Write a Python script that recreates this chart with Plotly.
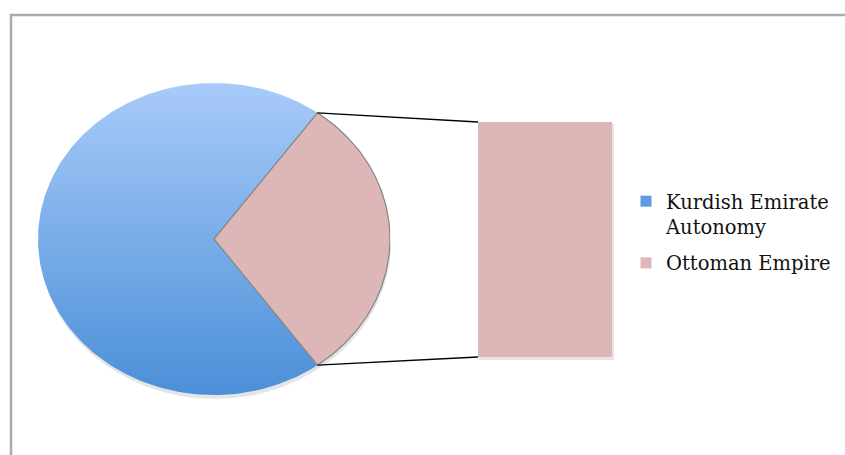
import numpy as np
import plotly.graph_objects as go

# ---- data ----
categories = ["Kurdish Emirate Autonomy", "Ottoman Empire"]
values = [70, 30]
legend_labels = ["Kurdish Emirate<br>Autonomy", "Ottoman Empire"]
bar_values = [30]          # secondary "bar of pie" contents (Ottoman Empire)

# ---- style / layout ----
W, H = 845, 455
blue_dark, blue_light = "#4b8fd8", "#a8cbf9"
pink = "rgb(221,183,183)"
pie_px = (38, 390, 83, 395)     # left, right, top, bottom (pixels)
bar_px = (478, 612, 122, 357)


def px2paper_x(v):
    return v / W


def px2paper_y(v):
    return 1 - v / H


total = sum(values)
ott_half = np.pi * values[1] / total        # Ottoman wedge centred on 0 rad


def wedge(a0, a1, n=200):
    t = np.linspace(a0, a1, n)
    xs = np.concatenate([[0], np.cos(t), [0]])
    ys = np.concatenate([[0], np.sin(t), [0]])
    return xs, ys

fig = go.Figure()

kx, ky = wedge(ott_half, 2 * np.pi - ott_half)
fig.add_trace(go.Scatter(
    x=kx, y=ky, mode="lines", fill="toself", line=dict(width=0, color=blue_dark),
    fillgradient=dict(type="vertical", start=-1, stop=1,
                      colorscale=[[0, blue_dark], [1, blue_light]]),
    name=categories[0], showlegend=False, hoverinfo="skip", xaxis="x", yaxis="y"))

ox, oy = wedge(-ott_half, ott_half)
fig.add_trace(go.Scatter(
    x=ox, y=oy, mode="lines", fill="toself", fillcolor=pink,
    line=dict(width=1.2, color="#858585"),
    name=categories[1], showlegend=False, hoverinfo="skip", xaxis="x", yaxis="y"))

fig.add_trace(go.Bar(
    x=[categories[1]], y=bar_values, width=1, marker=dict(color=pink, line=dict(width=0)),
    showlegend=False, hoverinfo="skip", xaxis="x2", yaxis="y2"))

# legend entries
fig.add_trace(go.Scatter(x=[None], y=[None], mode="markers", name=legend_labels[0],
                         legendgroup="g1",
                         marker=dict(symbol="square", size=11, color="#5e9be2"),
                         xaxis="x", yaxis="y"))
fig.add_trace(go.Scatter(x=[None], y=[None], mode="markers", name=legend_labels[1],
                         legendgroup="g2",
                         marker=dict(symbol="square", size=11, color=pink),
                         xaxis="x", yaxis="y"))

# connector lines: wedge edge points -> bar corners
L, R, T, B = pie_px
cx, cy = (L + R) / 2, (T + B) / 2
rx, ry = (R - L) / 2, (B - T) / 2
ex = cx + rx * np.cos(ott_half)
ey_top = cy - ry * np.sin(ott_half)
ey_bot = cy + ry * np.sin(ott_half)
bl, br, bt, bb = bar_px
shapes = [
    # shadows
    dict(type="circle", xref="paper", yref="paper", layer="below",
         x0=px2paper_x(L + 1), x1=px2paper_x(R + 1), y0=px2paper_y(B + 4), y1=px2paper_y(T + 3),
         fillcolor="rgba(0,0,0,0.10)", line=dict(width=0)),
    dict(type="rect", xref="paper", yref="paper", layer="below",
         x0=px2paper_x(bl + 1), x1=px2paper_x(br + 2), y0=px2paper_y(bb + 3), y1=px2paper_y(bt + 2),
         fillcolor="rgba(0,0,0,0.10)", line=dict(width=0)),
    dict(type="line", xref="paper", yref="paper",
         x0=px2paper_x(ex), y0=px2paper_y(ey_top), x1=px2paper_x(bl), y1=px2paper_y(bt),
         line=dict(color="black", width=1.3)),
    dict(type="line", xref="paper", yref="paper",
         x0=px2paper_x(ex), y0=px2paper_y(ey_bot), x1=px2paper_x(bl), y1=px2paper_y(bb),
         line=dict(color="black", width=1.3)),
    # outer frame
    dict(type="rect", xref="paper", yref="paper",
         x0=px2paper_x(11), y0=-0.2, x1=1.2, y1=px2paper_y(15),
         line=dict(color="#ababab", width=2.5)),
]

ax_off = dict(visible=False, showgrid=False, zeroline=False, fixedrange=True)
fig.update_layout(
    width=W, height=H, margin=dict(l=0, r=0, t=0, b=0),
    paper_bgcolor="white", plot_bgcolor="rgba(0,0,0,0)",
    xaxis=dict(domain=[px2paper_x(L), px2paper_x(R)], range=[-1, 1], **ax_off),
    yaxis=dict(domain=[px2paper_y(B), px2paper_y(T)], range=[-1, 1], **ax_off),
    xaxis2=dict(domain=[px2paper_x(bl), px2paper_x(br)], range=[-0.5, 0.5], anchor="y2", **ax_off),
    yaxis2=dict(domain=[px2paper_y(bb), px2paper_y(bt)], range=[0, bar_values[0]], anchor="x2", **ax_off),
    shapes=shapes,
    showlegend=True,
    legend=dict(x=px2paper_x(626), y=px2paper_y(182), xanchor="left", yanchor="top",
                valign="top", bgcolor="rgba(0,0,0,0)", tracegroupgap=8,
                font=dict(family="DejaVu Serif", size=19.5, color="#111111")),
)

fig.write_html("out.html")
